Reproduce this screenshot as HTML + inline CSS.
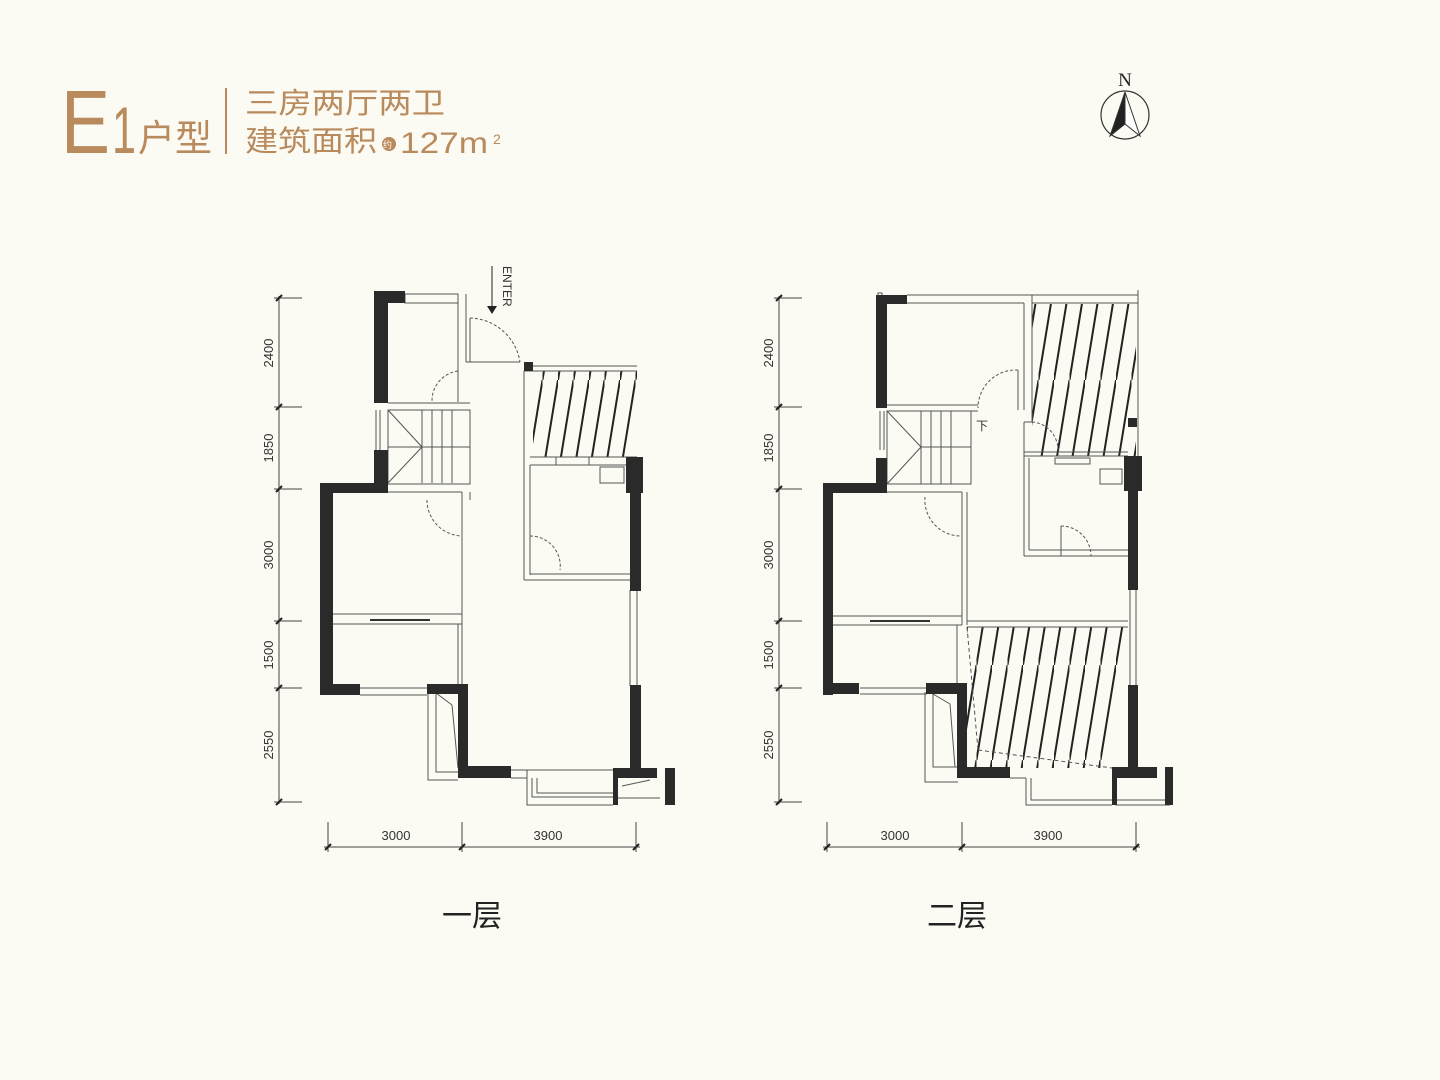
<!DOCTYPE html>
<html><head><meta charset="utf-8"><style>
html,body{margin:0;padding:0;background:#fbfaf3;}
svg{display:block}
</style></head><body>
<svg width="1440" height="1080" viewBox="0 0 1440 1080" xmlns="http://www.w3.org/2000/svg">
<defs>
<pattern id="h" patternUnits="userSpaceOnUse" width="15.5" height="95" x="0" y="0">
<line x1="0" y1="95" x2="15.5" y2="0" stroke="#222" stroke-width="2"/>
</pattern>
</defs>
<rect width="1440" height="1080" fill="#fbfaf3"/>
<!-- title -->
<g fill="#b98a5c" font-family="'Liberation Sans','Noto Sans CJK SC',sans-serif">
<text x="61" y="153" font-size="90" textLength="49" lengthAdjust="spacingAndGlyphs">E</text>
<text x="112" y="153" font-size="66" textLength="24" lengthAdjust="spacingAndGlyphs">1</text>
<text x="138" y="151" font-size="37" textLength="74" lengthAdjust="spacingAndGlyphs">户型</text>
<rect x="225" y="88" width="2" height="66"/>
<text x="245" y="113" font-size="29" textLength="200" lengthAdjust="spacingAndGlyphs">三房两厅两卫</text>
<text x="245" y="151" font-size="29" textLength="132" lengthAdjust="spacingAndGlyphs">建筑面积</text>
<circle cx="389" cy="144" r="7"/>
<text x="383" y="148" font-size="9" fill="#fbfaf3">约</text>
<text x="400" y="153" font-size="30" textLength="88" lengthAdjust="spacingAndGlyphs">127m</text>
<text x="493" y="144" font-size="14">2</text>
</g>
<!-- compass -->
<g stroke="#333" fill="none">
<circle cx="1125" cy="115" r="24" stroke-width="1.2"/>
<polygon points="1125,92 1110,136 1125,124" fill="#222"/>
<polygon points="1125,92 1140,136 1125,124" fill="#fff"/>
</g>
<text x="1125" y="86" font-size="19" text-anchor="middle" font-family="'Liberation Serif',serif" fill="#222">N</text>

<!-- ============ PLAN 1 ============ -->
<g id="p1">
<g stroke="#444" stroke-width="1" fill="none">
<line x1="279" y1="296" x2="279" y2="804"/>
<line x1="274" y1="298" x2="302" y2="298"/><line x1="274" y1="407" x2="302" y2="407"/>
<line x1="274" y1="489" x2="302" y2="489"/><line x1="274" y1="621" x2="302" y2="621"/>
<line x1="274" y1="688" x2="302" y2="688"/><line x1="274" y1="802" x2="302" y2="802"/>
<line x1="324" y1="847" x2="640" y2="847"/>
<line x1="328" y1="822" x2="328" y2="852"/><line x1="462" y1="822" x2="462" y2="852"/><line x1="636" y1="822" x2="636" y2="852"/>
</g>
<g stroke="#222" stroke-width="2">
<line x1="276" y1="301" x2="282" y2="295"/><line x1="276" y1="410" x2="282" y2="404"/><line x1="276" y1="492" x2="282" y2="486"/>
<line x1="276" y1="624" x2="282" y2="618"/><line x1="276" y1="691" x2="282" y2="685"/><line x1="276" y1="805" x2="282" y2="799"/>
<line x1="325" y1="850" x2="331" y2="844"/><line x1="459" y1="850" x2="465" y2="844"/><line x1="633" y1="850" x2="639" y2="844"/>
</g>
<g font-family="'Liberation Sans',sans-serif" font-size="13" fill="#333">
<text transform="translate(273,353) rotate(-90)" text-anchor="middle">2400</text>
<text transform="translate(273,448) rotate(-90)" text-anchor="middle">1850</text>
<text transform="translate(273,555) rotate(-90)" text-anchor="middle">3000</text>
<text transform="translate(273,655) rotate(-90)" text-anchor="middle">1500</text>
<text transform="translate(273,745) rotate(-90)" text-anchor="middle">2550</text>
<text x="396" y="840" text-anchor="middle">3000</text>
<text x="548" y="840" text-anchor="middle">3900</text>
</g>
<rect x="533" y="371" width="104" height="86" fill="url(#h)"/>
<g stroke="#555" stroke-width="1" fill="none">
<rect x="405" y="294" width="53" height="9"/>
<line x1="458" y1="294" x2="458" y2="402"/><line x1="466" y1="294" x2="466" y2="362"/>
<line x1="470" y1="318" x2="470" y2="362"/><line x1="466" y1="362" x2="520" y2="362"/>
<path d="M470 318 A52 52 0 0 1 520 362" stroke-dasharray="3 2"/>
<path d="M458 371 A30 30 0 0 0 432 401" stroke-dasharray="3 2"/>
<line x1="388" y1="403" x2="470" y2="403"/><line x1="388" y1="410" x2="470" y2="410"/>
<rect x="388" y="410" width="82" height="74"/>
<line x1="388" y1="410" x2="422" y2="447"/><line x1="388" y1="483" x2="422" y2="447"/>
<line x1="388" y1="447" x2="470" y2="447"/>
<line x1="422" y1="410" x2="422" y2="483"/><line x1="432" y1="410" x2="432" y2="483"/><line x1="442" y1="410" x2="442" y2="483"/><line x1="452" y1="410" x2="452" y2="483"/>
<line x1="376" y1="410" x2="376" y2="450"/><line x1="380" y1="410" x2="380" y2="450"/>
<line x1="388" y1="492" x2="462" y2="492"/><line x1="462" y1="492" x2="462" y2="688"/><line x1="470" y1="492" x2="470" y2="500"/>
<path d="M427 500 A36 36 0 0 0 462 536" stroke-dasharray="3 2"/>
<line x1="333" y1="614" x2="462" y2="614"/><line x1="333" y1="624" x2="462" y2="624"/>
<line x1="370" y1="620" x2="430" y2="620" stroke="#333" stroke-width="2"/>
<line x1="458" y1="624" x2="458" y2="684"/>
<line x1="524" y1="371" x2="524" y2="580"/><line x1="530" y1="465" x2="530" y2="575"/>
<line x1="524" y1="371" x2="637" y2="371"/><line x1="533" y1="366" x2="637" y2="366"/>
<line x1="530" y1="457" x2="637" y2="457"/><line x1="530" y1="465" x2="630" y2="465"/>
<rect x="556" y="457" width="33" height="8"/>
<rect x="600" y="467" width="24" height="16"/>
<line x1="524" y1="580" x2="630" y2="580"/><line x1="530" y1="574" x2="630" y2="574"/>
<line x1="530" y1="536" x2="530" y2="574"/>
<path d="M530 536 A30 30 0 0 1 560 570" stroke-dasharray="3 2"/>
<line x1="637" y1="590" x2="637" y2="686"/><line x1="630" y1="590" x2="630" y2="686"/>
<line x1="360" y1="688" x2="427" y2="688"/><line x1="360" y1="695" x2="427" y2="695"/>
<path d="M428 693 V780 H458 M436 693 V772 H458"/>
<line x1="436" y1="693" x2="452" y2="705"/><line x1="452" y1="705" x2="458" y2="768"/>
<line x1="511" y1="770" x2="613" y2="770"/><line x1="511" y1="778" x2="527" y2="778"/>
<path d="M527 770 V805 H613 M532 778 V797 H613 M537 778 V793 H613"/>
<line x1="618" y1="798" x2="660" y2="798"/><line x1="622" y1="786" x2="650" y2="780"/>
</g>
<g fill="#2a2a2a">
<rect x="374" y="291" width="31" height="12"/>
<rect x="374" y="291" width="14" height="112"/>
<rect x="374" y="450" width="14" height="42"/>
<rect x="320" y="483" width="68" height="10"/>
<rect x="320" y="483" width="13" height="212"/>
<rect x="320" y="684" width="40" height="11"/>
<rect x="427" y="684" width="41" height="10"/>
<rect x="458" y="684" width="10" height="94"/>
<rect x="458" y="766" width="53" height="12"/>
<rect x="524" y="362" width="9" height="9"/>
<rect x="626" y="457" width="17" height="36"/>
<rect x="630" y="457" width="11" height="134"/>
<rect x="630" y="685" width="11" height="93"/>
<rect x="613" y="768" width="44" height="10"/>
<rect x="613" y="768" width="5" height="37"/>
<rect x="665" y="768" width="10" height="37"/>
</g>
<line x1="492" y1="266" x2="492" y2="308" stroke="#222" stroke-width="1"/>
<polygon points="487,306 497,306 492,314" fill="#222"/>
<text transform="translate(503,266) rotate(90)" font-family="'Liberation Sans',sans-serif" font-size="12" fill="#333">ENTER</text>
</g>

<!-- ============ PLAN 2 ============ -->
<g>
<g stroke="#444" stroke-width="1" fill="none">
<line x1="779" y1="296" x2="779" y2="804"/>
<line x1="774" y1="298" x2="802" y2="298"/><line x1="774" y1="407" x2="802" y2="407"/>
<line x1="774" y1="489" x2="802" y2="489"/><line x1="774" y1="621" x2="802" y2="621"/>
<line x1="774" y1="688" x2="802" y2="688"/><line x1="774" y1="802" x2="802" y2="802"/>
<line x1="823" y1="847" x2="1140" y2="847"/>
<line x1="827" y1="822" x2="827" y2="852"/><line x1="962" y1="822" x2="962" y2="852"/><line x1="1136" y1="822" x2="1136" y2="852"/>
</g>
<g stroke="#222" stroke-width="2">
<line x1="776" y1="301" x2="782" y2="295"/><line x1="776" y1="410" x2="782" y2="404"/><line x1="776" y1="492" x2="782" y2="486"/>
<line x1="776" y1="624" x2="782" y2="618"/><line x1="776" y1="691" x2="782" y2="685"/><line x1="776" y1="805" x2="782" y2="799"/>
<line x1="824" y1="850" x2="830" y2="844"/><line x1="959" y1="850" x2="965" y2="844"/><line x1="1133" y1="850" x2="1139" y2="844"/>
</g>
<g font-family="'Liberation Sans',sans-serif" font-size="13" fill="#333">
<text transform="translate(773,353) rotate(-90)" text-anchor="middle">2400</text>
<text transform="translate(773,448) rotate(-90)" text-anchor="middle">1850</text>
<text transform="translate(773,555) rotate(-90)" text-anchor="middle">3000</text>
<text transform="translate(773,655) rotate(-90)" text-anchor="middle">1500</text>
<text transform="translate(773,745) rotate(-90)" text-anchor="middle">2550</text>
<text x="895" y="840" text-anchor="middle">3000</text>
<text x="1048" y="840" text-anchor="middle">3900</text>
</g>
<rect x="1032" y="304" width="104" height="152" fill="url(#h)"/>
<polygon points="967,627 1128,627 1128,668 1112,768 967,768" fill="url(#h)"/>
<g stroke="#555" stroke-width="1" fill="none">
<rect x="878" y="293" width="4" height="30"/>
<line x1="907" y1="295" x2="973" y2="295"/><line x1="907" y1="303" x2="973" y2="303"/>
<line x1="973" y1="295" x2="1138" y2="295"/><line x1="973" y1="303" x2="1024" y2="303"/>
<line x1="1024" y1="303" x2="1024" y2="410"/><line x1="1032" y1="295" x2="1032" y2="422"/>
<line x1="1032" y1="303" x2="1138" y2="303"/><line x1="1138" y1="290" x2="1138" y2="456"/>
<line x1="1018" y1="370" x2="1018" y2="410"/>
<path d="M1018 370 A38 38 0 0 0 978 408" stroke-dasharray="3 2"/>
<line x1="887" y1="405" x2="978" y2="405"/><line x1="887" y1="411" x2="978" y2="411"/>
<rect x="887" y="411" width="84" height="73"/>
<line x1="887" y1="411" x2="921" y2="447"/><line x1="887" y1="484" x2="921" y2="447"/>
<line x1="921" y1="447" x2="971" y2="447"/>
<line x1="921" y1="411" x2="921" y2="484"/><line x1="931" y1="411" x2="931" y2="484"/><line x1="941" y1="411" x2="941" y2="484"/><line x1="951" y1="411" x2="951" y2="484"/>
<line x1="880" y1="411" x2="880" y2="450"/><line x1="884" y1="411" x2="884" y2="450"/>
<line x1="1024" y1="422" x2="1032" y2="422"/><line x1="1024" y1="422" x2="1024" y2="452"/>
<path d="M1032 422 A28 28 0 0 1 1058 450" stroke-dasharray="3 2"/>
<line x1="1024" y1="452" x2="1128" y2="452"/><line x1="1024" y1="456" x2="1128" y2="456"/>
<line x1="1024" y1="452" x2="1024" y2="556"/><line x1="1029" y1="458" x2="1029" y2="550"/>
<rect x="1055" y="458" width="35" height="6"/><rect x="1100" y="469" width="22" height="15"/>
<line x1="1024" y1="556" x2="1128" y2="556"/><line x1="1029" y1="550" x2="1128" y2="550"/>
<line x1="1061" y1="526" x2="1061" y2="556"/>
<path d="M1061 526 A30 30 0 0 1 1091 556" stroke-dasharray="3 2"/>
<line x1="887" y1="492" x2="962" y2="492"/><line x1="962" y1="492" x2="962" y2="625"/><line x1="967" y1="492" x2="967" y2="625"/>
<path d="M925 497 A36 36 0 0 0 962 536" stroke-dasharray="3 2"/>
<line x1="833" y1="616" x2="962" y2="616"/><line x1="833" y1="625" x2="962" y2="625"/>
<line x1="870" y1="621" x2="930" y2="621" stroke="#333" stroke-width="2"/>
<line x1="957" y1="625" x2="957" y2="684"/>
<line x1="967" y1="621" x2="1128" y2="621"/><line x1="967" y1="627" x2="1128" y2="627"/>
<line x1="1136" y1="590" x2="1136" y2="685"/><line x1="1130" y1="590" x2="1130" y2="685"/>
<line x1="967" y1="627" x2="978" y2="750" stroke-dasharray="4 3"/><line x1="978" y1="750" x2="1112" y2="768" stroke-dasharray="4 3"/>
<line x1="860" y1="688" x2="927" y2="688"/><line x1="860" y1="694" x2="927" y2="694"/>
<path d="M925 692 V782 H958 M933 692 V767 H958"/>
<line x1="933" y1="694" x2="950" y2="704"/><line x1="950" y1="704" x2="955" y2="767"/>
<path d="M1026 778 V805 H1112 M1031 778 V800 H1112"/>
<line x1="1010" y1="778" x2="1026" y2="778"/>
<path d="M1116 778 V805 H1170 M1116 800 H1165"/>
</g>
<text x="976" y="430" font-family="'Noto Sans CJK SC',sans-serif" font-size="12" fill="#333">下</text>
<g fill="#2a2a2a">
<rect x="876" y="295" width="31" height="9"/>
<rect x="876" y="295" width="11" height="113"/>
<rect x="876" y="458" width="11" height="35"/>
<rect x="823" y="483" width="64" height="10"/>
<rect x="823" y="483" width="10" height="212"/>
<rect x="823" y="683" width="36" height="11"/>
<rect x="926" y="683" width="41" height="11"/>
<rect x="957" y="683" width="10" height="95"/>
<rect x="957" y="767" width="53" height="11"/>
<rect x="1128" y="418" width="9" height="9"/>
<rect x="1124" y="456" width="18" height="35"/>
<rect x="1128" y="456" width="10" height="134"/>
<rect x="1128" y="685" width="10" height="92"/>
<rect x="1112" y="767" width="45" height="11"/>
<rect x="1112" y="767" width="5" height="38"/>
<rect x="1165" y="767" width="8" height="38"/>
</g>
</g>

<g font-family="'Liberation Sans','Noto Sans CJK SC',sans-serif" font-size="30" fill="#222">
<text x="442" y="926">一层</text>
<text x="927" y="926">二层</text>
</g>
</svg>
</body></html>
